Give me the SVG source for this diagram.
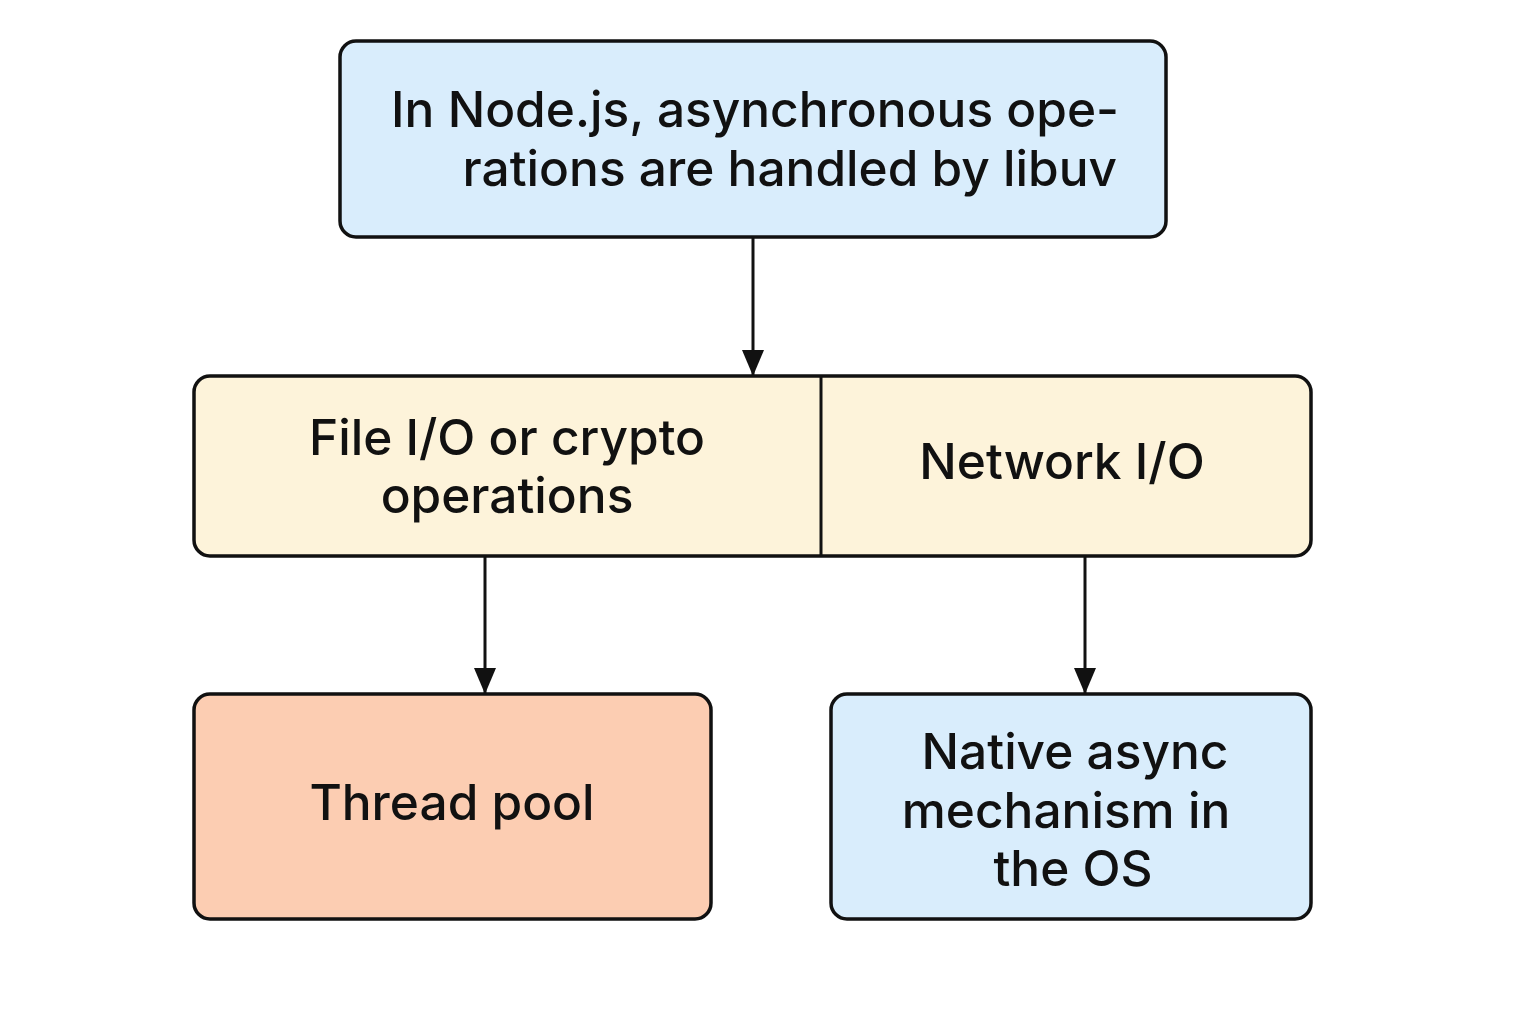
<svg xmlns="http://www.w3.org/2000/svg" width="1536" height="1024" viewBox="0 0 1536 1024">
<style>
.box{stroke:#111;stroke-width:3.5}
.t{font-family:Inter,"Noto Sans","Liberation Sans",sans-serif;font-size:49.6px;font-weight:500;fill:#111}
.c{text-anchor:middle}
.line{stroke:#111;stroke-width:3;fill:none}
.div{stroke:#111;stroke-width:3;fill:none}
</style>
<defs>
<marker id="ah" viewBox="0 0 26 22" refX="26" refY="11" markerWidth="26" markerHeight="22" markerUnits="userSpaceOnUse" orient="auto">
<path d="M0,0 L26,11 L0,22 z" fill="#111"/>
</marker>
</defs>
<rect width="1536" height="1024" fill="#fff"/>
<g id="connectors">
<line class="line" x1="753" y1="237" x2="753" y2="376" marker-end="url(#ah)"/>
<line class="line" x1="485" y1="556" x2="485" y2="694" marker-end="url(#ah)"/>
<line class="line" x1="1085" y1="556" x2="1085" y2="694" marker-end="url(#ah)"/>
</g>
<g id="node-libuv">
<rect class="box" x="340" y="41" width="826" height="196" rx="16" fill="#d9edfc"/>
<text class="t" x="1119" y="127" text-anchor="end">In Node.js, asynchronous ope-</text>
<text class="t" x="1117" y="186" text-anchor="end">rations are handled by libuv</text>
</g>
<g id="node-io">
<rect class="box" x="194" y="376" width="1117" height="180" rx="16" fill="#fdf3da"/>
<line class="div" x1="821" y1="376" x2="821" y2="556"/>
<text class="t c" x="507" y="455">File I/O or crypto</text>
<text class="t c" x="507" y="513">operations</text>
<text class="t c" x="1062" y="479">Network I/O</text>
</g>
<g id="node-threadpool">
<rect class="box" x="194" y="694" width="517" height="225" rx="16" fill="#fccdb2"/>
<text class="t c" x="452" y="820">Thread pool</text>
</g>
<g id="node-native">
<rect class="box" x="831" y="694" width="480" height="225" rx="16" fill="#d9edfc"/>
<text class="t c" x="1075" y="769">Native async</text>
<text class="t c" x="1066" y="828">mechanism in</text>
<text class="t c" x="1073" y="886">the OS</text>
</g>
</svg>
